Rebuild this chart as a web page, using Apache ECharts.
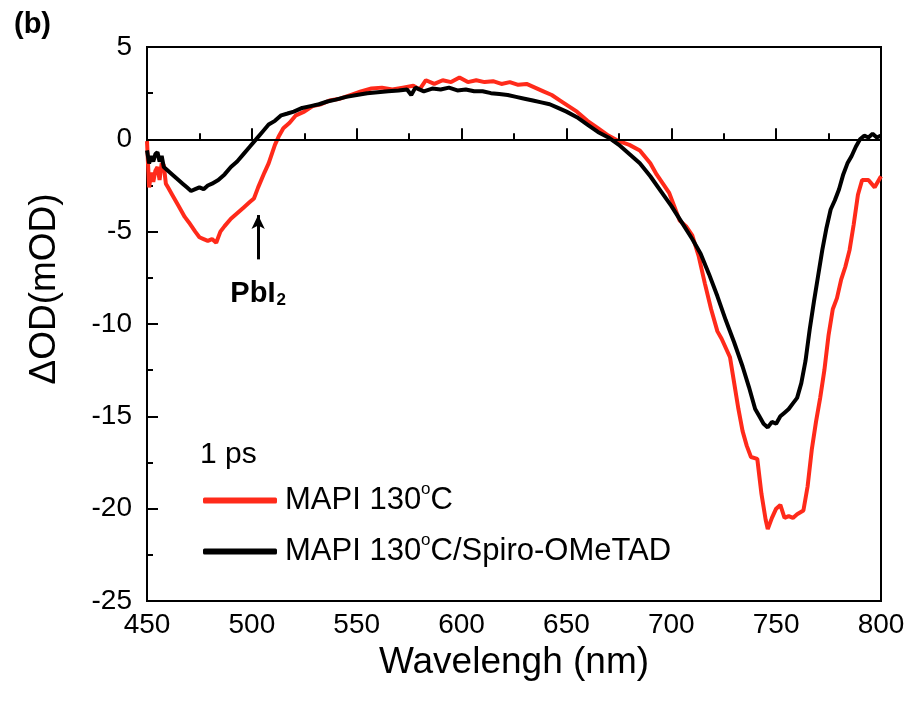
<!DOCTYPE html>
<html>
<head>
<meta charset="utf-8">
<script src="https://cdn.jsdelivr.net/npm/echarts@6/dist/echarts.min.js"></script>
<style>
  html, body { margin: 0; padding: 0; background: #fff; }
  #main { width: 913px; height: 706px; }
</style>
</head>
<body>
<div id="main"></div>
<script>
// wavelength (nm) / dOD (mOD)
const redWl = [450, 451, 452, 453, 454, 455, 456, 457, 458, 459, 460, 462, 465, 468, 470, 473, 475, 477, 479, 481, 483, 485, 487, 490, 493, 496, 499, 501, 503, 506, 508, 511, 513, 515, 518, 521, 525, 529, 533, 537, 542, 547, 552, 557, 562, 567, 572, 577, 580, 583, 587, 591, 595, 599, 603, 607, 611, 615, 619, 623, 627, 631, 635, 639, 643, 647, 651, 655, 660, 665, 670, 675, 680, 685, 690, 693, 696, 699, 701, 704, 707, 710, 713, 716, 719, 722, 724, 726, 728, 730, 732, 734, 736, 738, 741, 743, 745, 746, 748, 750, 752, 754, 756, 758, 760, 763, 765, 767, 769, 771, 773, 775, 777, 779, 781, 783, 785, 787, 789, 791, 794, 797, 800];
const redOD = [-0.1, -2.6, -1.8, -2.3, -1.7, -1.5, -2.2, -1.3, -1.4, -2.4, -2.6, -3.0, -3.6, -4.2, -4.5, -5.0, -5.3, -5.4, -5.5, -5.4, -5.6, -5.0, -4.7, -4.3, -4.0, -3.7, -3.4, -3.2, -2.6, -1.8, -1.3, -0.3, 0.2, 0.6, 0.9, 1.3, 1.5, 1.8, 1.9, 2.1, 2.2, 2.4, 2.6, 2.75, 2.8, 2.7, 2.8, 2.9, 2.7, 3.2, 3.0, 3.2, 3.1, 3.35, 3.1, 3.2, 3.1, 3.15, 3.0, 3.1, 2.95, 3.0, 2.8, 2.6, 2.4, 2.1, 1.8, 1.5, 1.0, 0.6, 0.2, -0.1, -0.3, -0.6, -1.3, -1.9, -2.4, -2.9, -3.5, -4.4, -4.7, -5.2, -6.3, -7.8, -9.2, -10.4, -10.8, -11.3, -11.8, -13.2, -14.6, -15.8, -16.6, -17.2, -17.3, -19.2, -20.6, -21.1, -20.5, -20.0, -19.8, -20.5, -20.4, -20.5, -20.3, -20.1, -18.8, -16.8, -15.3, -14.0, -12.5, -10.6, -9.2, -8.6, -7.6, -6.9, -6.0, -4.6, -3.0, -2.2, -2.2, -2.6, -2.0];

const blackWl = [450, 451, 452, 453, 454, 455, 456, 457, 458, 460, 462, 465, 467, 469, 471, 473, 475, 477, 479, 481, 484, 487, 490, 493, 496, 499, 502, 505, 508, 511, 514, 517, 520, 524, 528, 532, 536, 540, 545, 550, 555, 560, 565, 570, 574, 576, 578, 582, 586, 590, 594, 598, 602, 606, 610, 614, 618, 622, 626, 630, 634, 638, 642, 646, 650, 655, 660, 665, 670, 675, 680, 685, 690, 695, 700, 705, 710, 714, 718, 722, 726, 730, 734, 737, 740, 742, 744, 746, 748, 750, 752, 754, 756, 758, 760, 762, 764, 766, 768, 770, 772, 774, 776, 778, 780, 782, 784, 786, 788, 790, 792, 794, 796, 798, 800];
const blackOD = [-0.6, -1.3, -0.9, -1.2, -0.8, -0.7, -1.2, -0.9, -1.5, -1.7, -1.9, -2.2, -2.4, -2.6, -2.8, -2.7, -2.6, -2.7, -2.5, -2.4, -2.2, -1.9, -1.5, -1.2, -0.8, -0.4, 0.0, 0.4, 0.8, 1.0, 1.3, 1.4, 1.5, 1.7, 1.8, 1.9, 2.05, 2.15, 2.3, 2.4, 2.5, 2.55, 2.6, 2.65, 2.7, 2.4, 2.8, 2.6, 2.75, 2.7, 2.8, 2.65, 2.7, 2.6, 2.6, 2.5, 2.45, 2.4, 2.3, 2.2, 2.1, 2.0, 1.9, 1.7, 1.5, 1.2, 0.8, 0.4, 0.1, -0.3, -0.8, -1.3, -2.0, -2.8, -3.6, -4.5, -5.4, -6.2, -7.3, -8.5, -9.8, -11.0, -12.3, -13.4, -14.6, -15.0, -15.4, -15.6, -15.3, -15.4, -15.0, -14.8, -14.6, -14.3, -14.0, -13.2, -12.0, -10.3, -8.8, -7.4, -6.0, -4.8, -3.8, -3.3, -2.7, -1.9, -1.3, -0.9, -0.4, 0.0, 0.2, 0.1, 0.3, 0.1, 0.2];

const seriesNames = ['MAPI 130°C', 'MAPI 130°C/Spiro-OMeTAD'];
const seriesColors = ['#ff2a1a', '#000000'];
const pbi2Arrow = [[503, -6.5], [503, -4.1]];
const pbi2Label = [503, -8.4];

const font = '"Liberation Sans", Arial, sans-serif';

function pairs(xs, ys) {
  return xs.map((x, i) => [x, ys[i]]);
}

const chart = echarts.init(document.getElementById('main'));

const option = {
  backgroundColor: '#fff',
  animation: false,
  title: [
    {
      text: '(b)', left: 9, top: 5,
      textStyle: { fontFamily: font, fontSize: 29, fontWeight: 'bold', color: '#000' }
    },
    {
      text: '1 ps', left: 195, top: 435,
      textStyle: { fontFamily: font, fontSize: 30, fontWeight: 'normal', color: '#000' }
    }
  ],
  legend: {
    orient: 'vertical',
    left: 198,
    top: 476,
    itemWidth: 74,
    itemHeight: 6,
    itemGap: 16,
    icon: 'roundRect',
    data: seriesNames,
    formatter: name => name.replace('°', '{sup|o}'),
    textStyle: {
      fontFamily: font, fontSize: 31, color: '#000', padding: [0, 0, 0, 3],
      rich: {
        sup: { fontFamily: font, fontSize: 17, color: '#000', padding: [0, 0, 22, 0] }
      }
    }
  },
  grid: {
    left: 147, right: 32, top: 47, bottom: 105,
    show: true, borderColor: '#000', borderWidth: 2, backgroundColor: 'transparent'
  },
  xAxis: {
    type: 'value',
    min: 450, max: 800, interval: 50,
    name: 'Wavelengh (nm)',
    nameLocation: 'middle',
    nameGap: 37,
    nameTextStyle: { fontFamily: font, fontSize: 37, color: '#000' },
    axisLine: { show: true, lineStyle: { color: '#000', width: 2 } },
    axisTick: { show: true, inside: true, length: 11, lineStyle: { color: '#000', width: 2 } },
    minorTick: { show: true, splitNumber: 2, length: 6, lineStyle: { color: '#000', width: 2 } },
    splitLine: { show: false },
    axisLabel: { fontFamily: font, fontSize: 28, color: '#000', margin: 10 }
  },
  yAxis: {
    type: 'value',
    min: -25, max: 5, interval: 5,
    axisLine: { show: true, lineStyle: { color: '#000', width: 2 } },
    axisTick: { show: true, inside: true, length: 11, lineStyle: { color: '#000', width: 2 } },
    minorTick: { show: true, splitNumber: 2, length: 6, lineStyle: { color: '#000', width: 2 } },
    splitLine: { show: false },
    axisLabel: { fontFamily: font, fontSize: 28, color: '#000', margin: 15 }
  },
  graphic: [
    {
      type: 'text', x: 45, y: 289, rotation: Math.PI / 2,
      style: {
        text: 'ΔOD(mOD)', fontFamily: font, fontSize: 37, fill: '#000',
        align: 'center', verticalAlign: 'middle'
      }
    }
  ],
  series: [
    {
      name: seriesNames[0],
      type: 'line',
      data: pairs(redWl, redOD),
      showSymbol: false,
      color: seriesColors[0],
      lineStyle: { width: 4, color: seriesColors[0] },
      z: 2
    },
    {
      name: seriesNames[1],
      type: 'line',
      data: pairs(blackWl, blackOD),
      showSymbol: false,
      color: seriesColors[1],
      lineStyle: { width: 4, color: seriesColors[1] },
      z: 3,
      markLine: {
        silent: true,
        symbol: 'none',
        label: { show: false },
        data: [
          { yAxis: 0, lineStyle: { color: '#000', width: 2, type: 'solid' } },
          [
            { coord: pbi2Arrow[0], symbol: 'none' },
            { coord: pbi2Arrow[1], symbol: 'arrow', symbolSize: [10, 14] }
          ]
        ],
        lineStyle: { color: '#000', width: 3, type: 'solid' }
      },
      markPoint: {
        silent: true,
        data: [{
          coord: pbi2Label,
          symbol: 'rect',
          symbolSize: 1,
          itemStyle: { color: 'transparent' },
          label: {
            show: true,
            position: 'inside',
            formatter: '{b|PbI}{s|2}',
            rich: {
              b: { fontFamily: font, fontSize: 29, fontWeight: 'bold', color: '#000' },
              s: { fontFamily: font, fontSize: 17, fontWeight: 'bold', color: '#000', verticalAlign: 'bottom', padding: [12, 0, 0, 1] }
            }
          }
        }]
      }
    }
  ]
};

chart.setOption(option);
</script>
</body>
</html>
